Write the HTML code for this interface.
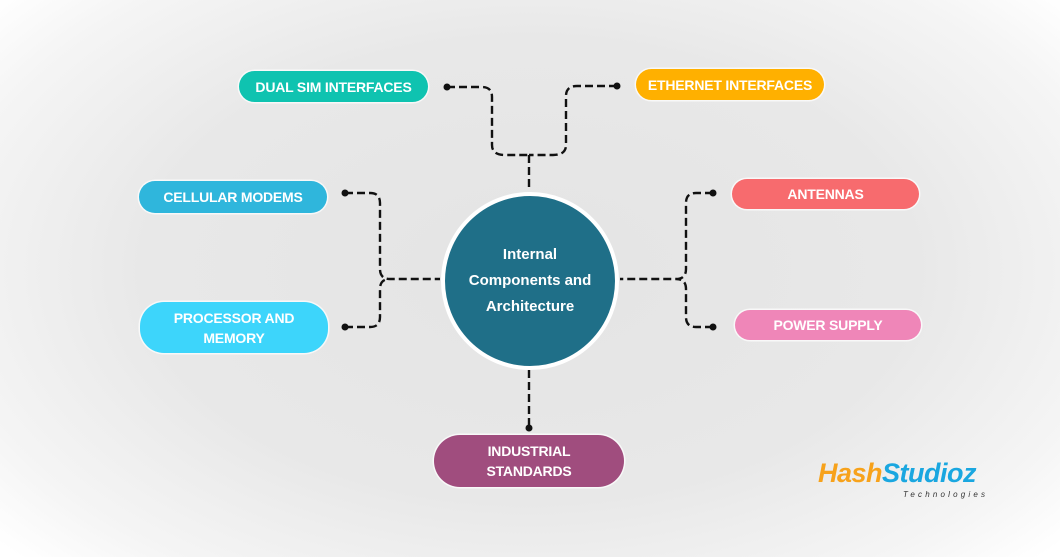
<!DOCTYPE html>
<html><head><style>
body{margin:0;width:1060px;height:557px;overflow:hidden;font-family:"Liberation Sans",sans-serif;
background:radial-gradient(ellipse 700px 420px at 530px 270px,#e4e4e4 0%,#e8e8e8 55%,#f5f5f5 85%,#fff 100%);position:relative}
.b{position:absolute;color:#fff;font-weight:bold;font-size:14px;letter-spacing:-0.2px;display:flex;align-items:center;justify-content:center;text-align:center;border-radius:17px;line-height:20px;box-shadow:0 0 0 1.5px rgba(255,255,255,.7)}
.c{position:absolute;left:441px;top:192px;width:170px;height:170px;border-radius:50%;background:#1f6f88;border:4px solid #fff;color:#fff;font-weight:bold;font-size:15px;display:flex;align-items:center;justify-content:center;text-align:center;line-height:26px}
svg{position:absolute;left:0;top:0}
</style></head><body>
<svg width="1060" height="557" fill="none" stroke="#111" stroke-width="2.4" stroke-dasharray="8,4">
<path d="M447 87 H482 Q492 87 492 97 V145 Q492 155 505 155 H529 M617 86 H577 Q566 86 566 96 V145 Q566 155 553 155 H529 M529 155 V188"/>
<path d="M345 193 H370 Q380 193 380 203 V269 Q380 279 390 279 H440 M345 327 H370 Q380 327 380 317 V289 Q380 279 390 279"/>
<path d="M713 193 H696 Q686 193 686 203 V269 Q686 279 676 279 H620 M713 327 H696 Q686 327 686 317 V289 Q686 279 676 279"/>
<path d="M529 370 V428"/>
<g fill="#111" stroke="none"><circle cx="447" cy="87" r="3.5"/><circle cx="617" cy="86" r="3.5"/><circle cx="345" cy="193" r="3.5"/><circle cx="345" cy="327" r="3.5"/><circle cx="713" cy="193" r="3.5"/><circle cx="713" cy="327" r="3.5"/><circle cx="529" cy="428" r="3.5"/></g>
</svg>
<div class="c">Internal<br>Components and<br>Architecture</div>
<div class="b" style="left:239px;top:71px;width:189px;height:31px;background:#0fc3b0">DUAL SIM INTERFACES</div>
<div class="b" style="left:636px;top:69px;width:188px;height:31px;background:#ffb000">ETHERNET INTERFACES</div>
<div class="b" style="left:139px;top:181px;width:188px;height:32px;background:#2fb6dc">CELLULAR MODEMS</div>
<div class="b" style="left:140px;top:302px;width:188px;height:51px;background:#3dd5fb;border-radius:24px">PROCESSOR AND<br>MEMORY</div>
<div class="b" style="left:732px;top:179px;width:187px;height:30px;background:#f76b6e">ANTENNAS</div>
<div class="b" style="left:735px;top:310px;width:186px;height:30px;background:#ef86b8">POWER SUPPLY</div>
<div class="b" style="left:434px;top:435px;width:190px;height:52px;background:#a04d7e;border-radius:26px">INDUSTRIAL<br>STANDARDS</div>
<div style="position:absolute;left:818px;top:458px;font-weight:bold;font-style:italic;font-size:27px;letter-spacing:-0.5px;line-height:30px"><span style="color:#f7a21b">Hash</span><span style="color:#1aa7e0">Studioz</span></div>
<div style="position:absolute;left:903px;top:490px;font-size:8px;letter-spacing:3.2px;color:#333;font-style:italic">Technologies</div>
</body></html>
